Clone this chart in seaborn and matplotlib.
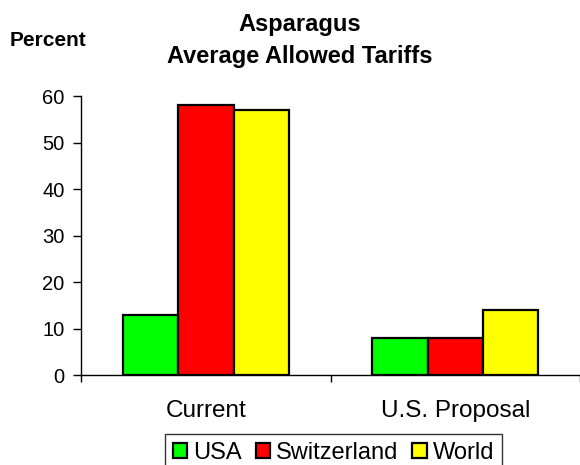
import matplotlib
matplotlib.use("Agg")
import matplotlib.pyplot as plt
import pandas as pd
import seaborn as sns

# Data
categories = ["Current", "U.S. Proposal"]
countries = ["USA", "Switzerland", "World"]
usa = [13, 8]
switzerland = [58, 8]
world = [57, 14]
colors = ["#00ff00", "#ff0000", "#ffff00"]

df = pd.DataFrame({
    "category": categories * 3,
    "country": ["USA"] * 2 + ["Switzerland"] * 2 + ["World"] * 2,
    "value": usa + switzerland + world,
})

sns.set_style("white")
plt.rcParams["font.family"] = ["Liberation Sans", "DejaVu Sans"]
plt.rcParams["text.color"] = "black"
plt.rcParams["xtick.color"] = "black"
plt.rcParams["ytick.color"] = "black"
plt.rcParams["axes.labelcolor"] = "black"

fig = plt.figure(figsize=(5.8, 4.65), dpi=100)
ax = fig.add_axes([0.14, 0.1935, 0.86, 0.6])

sns.barplot(data=df, x="category", y="value", hue="country", order=categories,
            hue_order=countries, palette=colors, width=0.667, gap=0,
            edgecolor="black", linewidth=1.6, saturation=1, ax=ax)

ax.set_xlim(-0.5, 1.5)
ax.set_ylim(0, 60)
ax.set_yticks(range(0, 61, 10))
ax.tick_params(axis="y", direction="out", length=6, width=1, color="black",
               labelsize=14.5, left=True, pad=6)
ax.tick_params(axis="x", which="major", length=0, labelsize=17.5, pad=18)
ax.set_xticks([-0.5, 0.5, 1.5], minor=True)
ax.tick_params(axis="x", which="minor", direction="out", length=5, width=1,
               color="black", bottom=True)
ax.set_xlabel("")
ax.set_ylabel("")
for s in ["top", "right"]:
    ax.spines[s].set_visible(False)
for s in ["left", "bottom"]:
    ax.spines[s].set_color("black")
    ax.spines[s].set_linewidth(1)

fig.text(0.516, 1 - 25 / 465, "Asparagus", ha="center", va="center",
         fontsize=17, fontweight="bold")
fig.text(0.516, 1 - 56 / 465, "Average Allowed Tariffs", ha="center", va="center",
         fontsize=17, fontweight="bold")
fig.text(10 / 580, 1 - 40 / 465, "Percent", ha="left", va="center",
         fontsize=15, fontweight="bold")

handles, labels = ax.get_legend_handles_labels()
ax.legend_.remove()
leg = fig.legend(handles, labels, loc="upper center",
                 bbox_to_anchor=(333.5 / 580, 1 - 434 / 465),
                 ncol=3, frameon=True, fancybox=False, edgecolor="black",
                 fontsize=17, handlelength=0.6, handleheight=0.6,
                 handletextpad=0.25, columnspacing=0.6, borderpad=0.35,
                 borderaxespad=0)
leg.get_frame().set_linewidth(1)

fig.savefig("out.png", dpi=100)
